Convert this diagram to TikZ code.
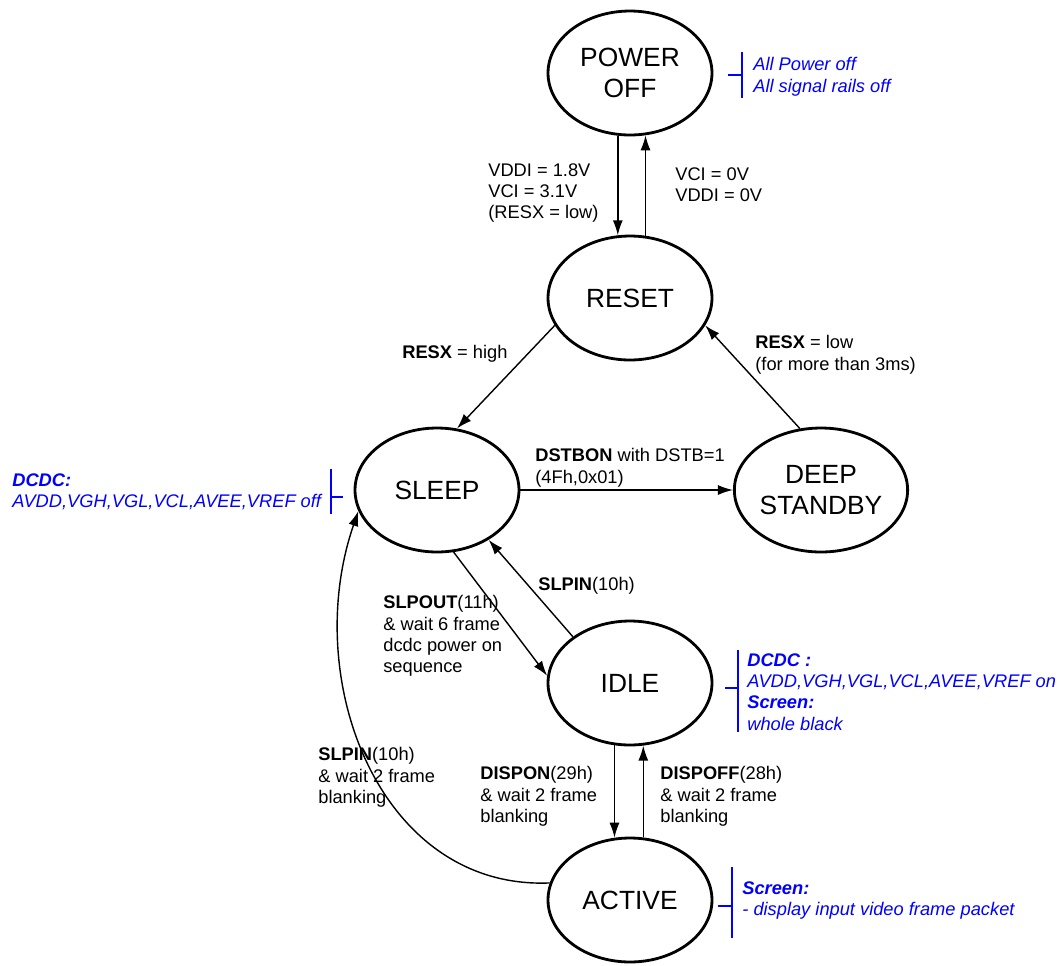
\documentclass[tikz,border=0pt]{standalone}
\usepackage{fontspec}
\setmainfont{Liberation Sans}
\usetikzlibrary{shapes.geometric,arrows.meta}

\begin{document}
\begin{tikzpicture}[x=0.02cm, y=-0.02cm]
    \tikzstyle{state}=[ellipse, draw, line width=1.6pt, minimum width=3.28cm, minimum height=2.48cm, inner sep=0pt, align=center, font=\fontsize{15}{17.6}\selectfont]
    \tikzstyle{lbl}=[anchor=north west, inner sep=0pt, align=left, font=\fontsize{10.4}{12.2}\selectfont]
    \tikzstyle{note}=[lbl, text=blue, font=\fontsize{10.4}{12.2}\selectfont\itshape]
    \tikzstyle{arr}=[line width=0.8pt, -{Latex[length=3mm,width=2mm]}]
    \tikzstyle{brace}=[blue, line width=0.8pt]
    \useasboundingbox (0,0) rectangle (1063,965);
    % states
    \node [state] (poweroff) at (630,73) {POWER\\OFF};
    \node [state] (reset) at (630,298) {RESET};
    \node [state] (sleep) at (437,490) {SLEEP};
    \node [state] (deep) at (821,490) {DEEP\\STANDBY};
    \node [state] (idle) at (630,683) {IDLE};
    \node [state] (active) at (630,900) {ACTIVE};
    % transitions
    \draw [arr] (poweroff.259) -- (reset.101);
    \draw [arr] (reset.76) -- (poweroff.284);
    \draw [arr] (reset.200) -- (sleep.72);
    \draw [arr] (deep.109) -- (reset.340);
    \draw [arr] (sleep.east) -- (deep.west);
    \draw [arr] (sleep.285) -- (idle.175);
    \draw [arr] (idle.141) -- (sleep.316);
    \draw [arr] (idle.256) -- (active.104);
    \draw [arr] (active.78) -- (idle.282);
    \draw [arr] (active.168) .. controls (380,890) and (300,680) .. (sleep.195);
    % transition labels
    \node [lbl] (lpon) at (488,163) {VDDI = 1.8V\\VCI = 3.1V\\(RESX = low)};
    \node [lbl] (lpoff) at (675,167) {VCI = 0V\\VDDI = 0V};
    \node [lbl] (lresxh) at (402,345) {\textbf{RESX} = high};
    \node [lbl] (lresxl) at (755,335) {\textbf{RESX} = low\\(for more than 3ms)};
    \node [lbl] (ldstb) at (535,448) {\textbf{DSTBON} with DSTB=1\\(4Fh,0x01)};
    \node [lbl] (lslpin) at (538,577) {\textbf{SLPIN}(10h)};
    \node [lbl] (lslpout) at (383,595) {\textbf{SLPOUT}(11h)\\\& wait 6 frame\\dcdc power on\\sequence};
    \node [lbl] (ldispon) at (480,766) {\textbf{DISPON}(29h)\\\& wait 2 frame\\blanking};
    \node [lbl] (ldispoff) at (660,766) {\textbf{DISPOFF}(28h)\\\& wait 2 frame\\blanking};
    \node [lbl] (lslpinb) at (318,747) {\textbf{SLPIN}(10h)\\\& wait 2 frame\\blanking};
    % notes
    \node [note] (npoff) at (753,57) {All Power off\\All signal rails off};
    \draw [brace] (742,52) -- (742,98) (728,75) -- (742,75);
    \node [note] (nsleep) at (12,473) {\textbf{DCDC:}\\AVDD,VGH,VGL,VCL,AVEE,VREF off};
    \draw [brace] (331,469) -- (331,514) (331,497) -- (343,497);
    \node [note] (nidle) at (747,653) {\textbf{DCDC :}\\AVDD,VGH,VGL,VCL,AVEE,VREF on\\\textbf{Screen:}\\whole black};
    \draw [brace] (738,650) -- (738,732) (725,688) -- (738,688);
    \node [note] (nactive) at (742,881) {\textbf{Screen:}\\- display input video frame packet};
    \draw [brace] (732,867) -- (732,938) (718,906) -- (732,906);
\end{tikzpicture}
\end{document}
